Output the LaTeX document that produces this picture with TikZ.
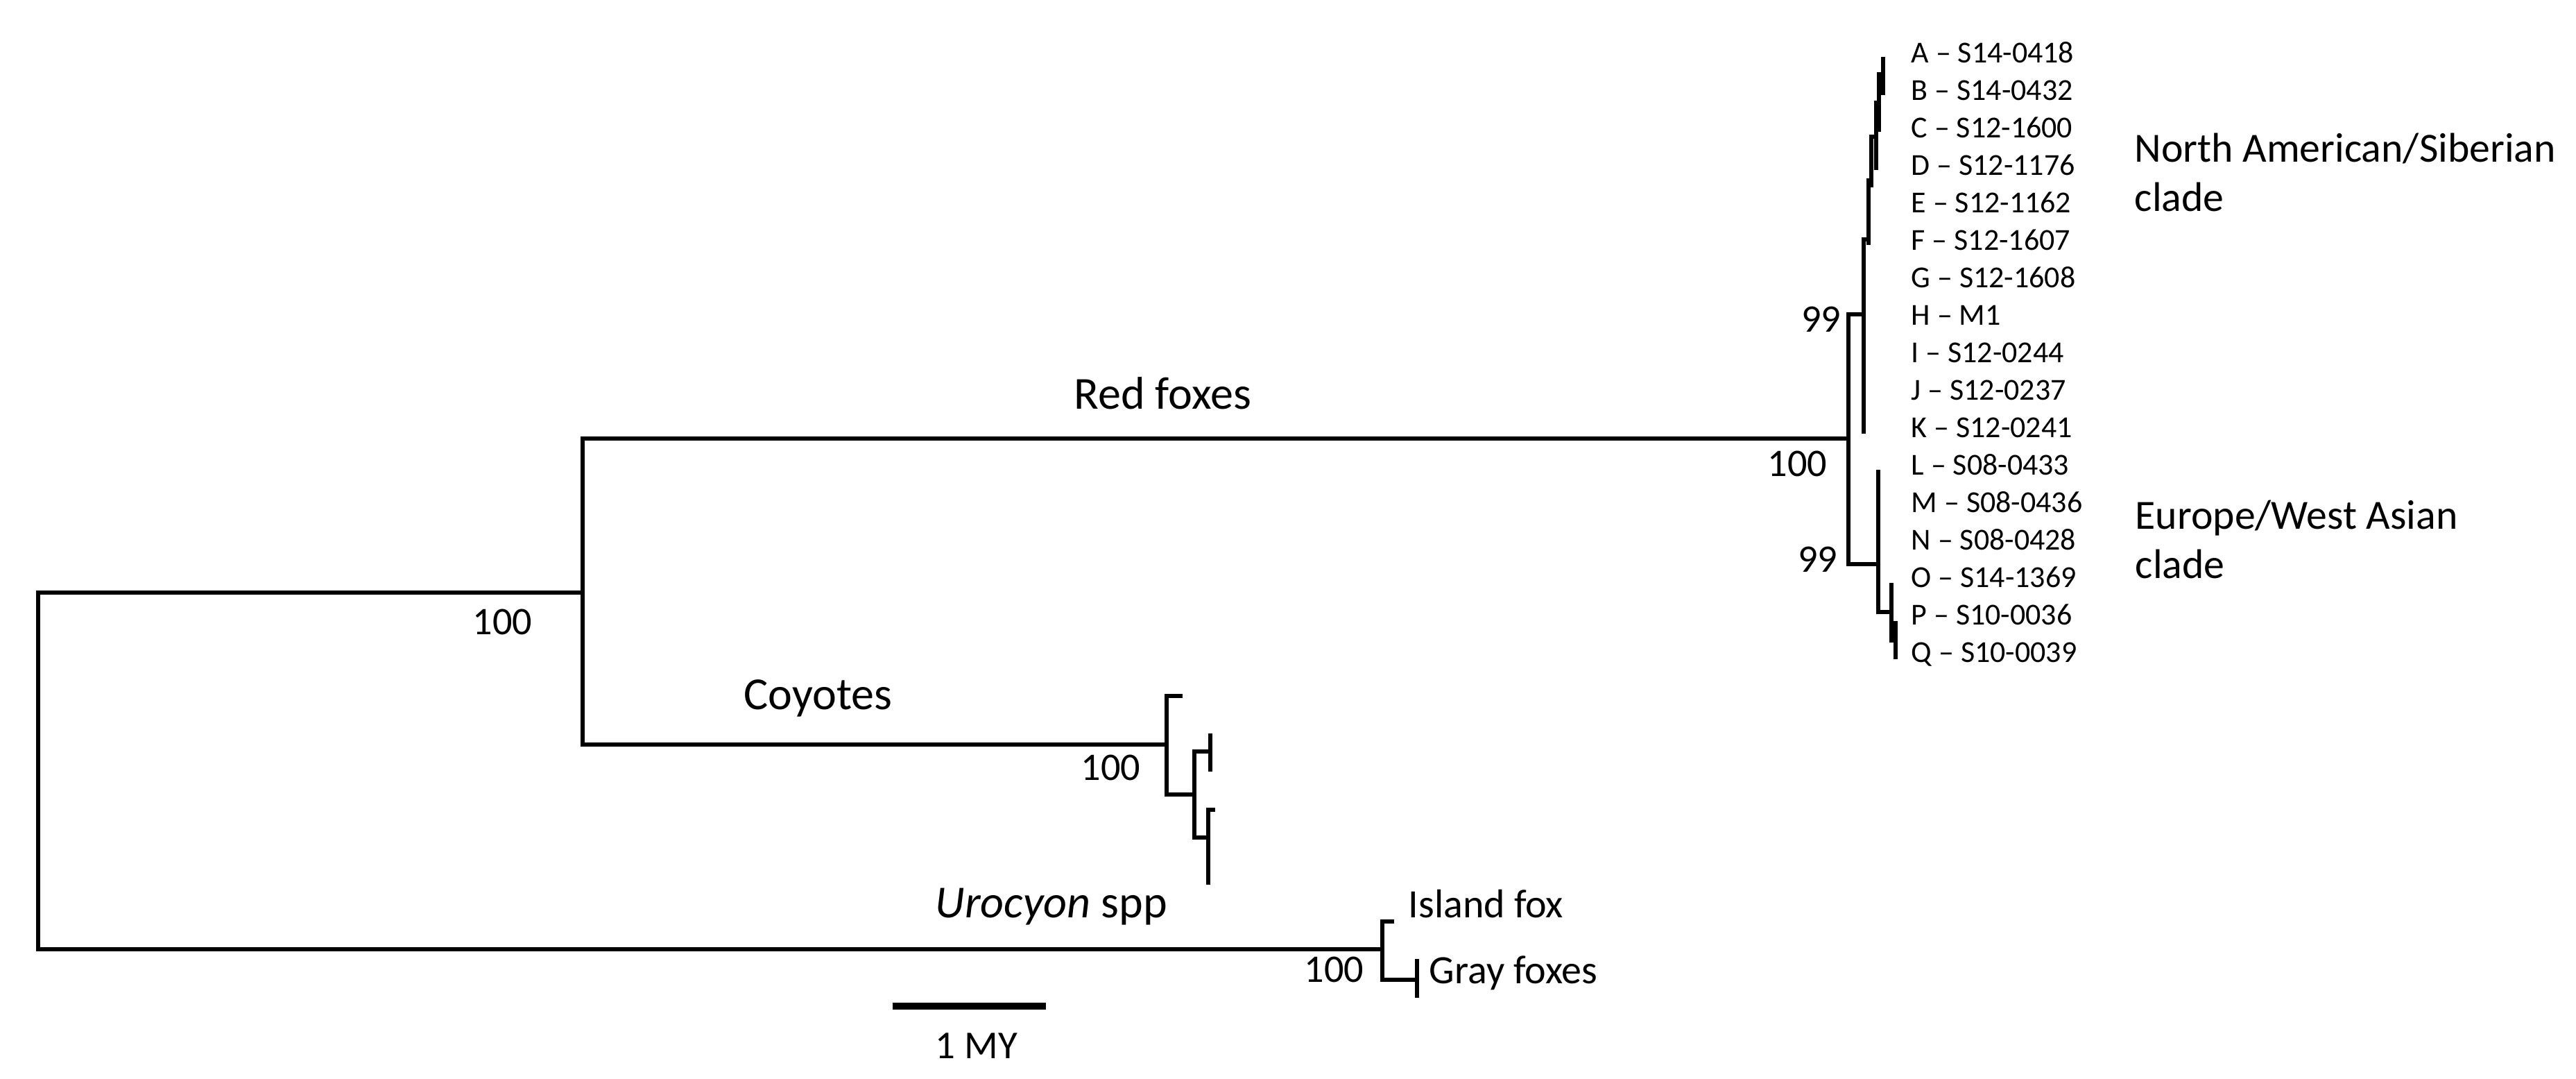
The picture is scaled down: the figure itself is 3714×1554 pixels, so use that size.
\documentclass[tikz,border=0pt]{standalone}
\usepackage{fontspec}
\setmainfont{Carlito}
\usepackage{tikz}
\tikzset{branch/.style={line width=1.5pt},
  tiplabel/.style={font=\fontsize{12.5}{15}\selectfont, anchor=base west, inner sep=0},
  support/.style={font=\fontsize{16}{19}\selectfont, anchor=east, inner sep=0},
  cladename/.style={font=\fontsize{18.8}{22}\selectfont, anchor=base west, inner sep=0},
  groupname/.style={font=\fontsize{17}{20.2}\selectfont, anchor=base west, inner sep=0, align=left},
  foxname/.style={font=\fontsize{16.5}{19}\selectfont, anchor=base west, inner sep=0}}

\begin{document}
\begin{tikzpicture}[x=0.1mm,y=-0.1mm]
\useasboundingbox (0,0) rectangle (3714,1554);
\coordinate (root) at (55,1110);
\coordinate (n1) at (840,854);
\coordinate (rf) at (2665,632);
\coordinate (na99) at (2687,453);
\coordinate (na1) at (2694,345);
\coordinate (na2) at (2698,260);
\coordinate (na3) at (2705,197);
\coordinate (na4) at (2709,148);
\coordinate (na5) at (2715,107);
\coordinate (tA) at (2715,82);
\coordinate (tB) at (2715,137);
\coordinate (tC) at (2709,190);
\coordinate (tD) at (2705,245);
\coordinate (tE) at (2698,270);
\coordinate (tF) at (2694,353);
\coordinate (tK) at (2687,625);
\coordinate (ew99) at (2708,813);
\coordinate (ew1) at (2727,882);
\coordinate (ew2) at (2733,923);
\coordinate (tL) at (2708,677);
\coordinate (tO) at (2727,840);
\coordinate (tP) at (2733,895);
\coordinate (tQ) at (2733,950);
\coordinate (coy) at (1682,1073);
\coordinate (cy1) at (1705,1003);
\coordinate (cy2) at (1722,1145);
\coordinate (cy3) at (1745,1083);
\coordinate (cy4) at (1742,1207);
\coordinate (cy5) at (1745,1057);
\coordinate (cy6) at (1745,1112);
\coordinate (cy7) at (1752,1167);
\coordinate (cy8) at (1742,1275);
\coordinate (uro) at (1993,1368);
\coordinate (island) at (2010,1328);
\coordinate (gray) at (2043,1412);
\coordinate (gr1) at (2043,1382);
\coordinate (gr2) at (2043,1438);

\draw[branch] (root) |- (n1);
\draw[branch] (root) |- (uro);
\draw[branch] (n1) |- (rf);
\draw[branch] (n1) |- (coy);
\draw[branch] (rf) |- (na99);
\draw[branch] (rf) |- (ew99);
\draw[branch] (na99) |- (na1);
\draw[branch] (na99) |- (tK);
\draw[branch] (na1) |- (na2);
\draw[branch] (na1) |- (tF);
\draw[branch] (na2) |- (na3);
\draw[branch] (na2) |- (tE);
\draw[branch] (na3) |- (na4);
\draw[branch] (na3) |- (tD);
\draw[branch] (na4) |- (na5);
\draw[branch] (na4) |- (tC);
\draw[branch] (na5) |- (tA);
\draw[branch] (na5) |- (tB);
\draw[branch] (ew99) |- (tL);
\draw[branch] (ew99) |- (ew1);
\draw[branch] (ew1) |- (tO);
\draw[branch] (ew1) |- (ew2);
\draw[branch] (ew2) |- (tP);
\draw[branch] (ew2) |- (tQ);
\draw[branch] (coy) |- (cy1);
\draw[branch] (coy) |- (cy2);
\draw[branch] (cy2) |- (cy3);
\draw[branch] (cy2) |- (cy4);
\draw[branch] (cy3) |- (cy5);
\draw[branch] (cy3) |- (cy6);
\draw[branch] (cy4) |- (cy7);
\draw[branch] (cy4) |- (cy8);
\draw[branch] (uro) |- (island);
\draw[branch] (uro) |- (gray);
\draw[branch] (gray) |- (gr1);
\draw[branch] (gray) |- (gr2);

\foreach \lab [count=\i from 0] in {A -- S14-0418, B -- S14-0432, C -- S12-1600,
  D -- S12-1176, E -- S12-1162, F -- S12-1607, G -- S12-1608, H -- M1,
  I -- S12-0244, J -- S12-0237, K -- S12-0241, L -- S08-0433, M -- S08-0436,
  N -- S08-0428, O -- S14-1369, P -- S10-0036, Q -- S10-0039}
  \node[tiplabel] (lab\i) at (2755,{90+54*\i}) {\lab};

\node[support] (bsroot) at (768,896) {100};
\node[support] (bsrf) at (2635,668) {100};
\node[support] (bsna) at (2655,460) {99};
\node[support] (bsew) at (2650,806) {99};
\node[support] (bscoy) at (1645,1106) {100};
\node[support] (bsuro) at (1967,1397) {100};

\node[cladename] (redfoxes) at (1548,589) {Red foxes};
\node[cladename] (coyotes) at (1072,1022) {Coyotes};
\node[cladename] (urocyon) at (1348,1322) {\textit{Urocyon} spp};
\node[groupname] (nasib) at (3077,304) {North American/Siberian\\clade};
\node[groupname] (euwa) at (3078,833) {Europe/West Asian\\clade};
\node[foxname] (islandfox) at (2030,1322) {Island fox};
\node[foxname] (grayfoxes) at (2060,1417) {Gray foxes};

\coordinate (sb1) at (1287,1450);
\coordinate (sb2) at (1508,1450);
\draw[line width=2.85pt] (sb1) -- (sb2);
\node[font=\fontsize{16.2}{19}\selectfont, anchor=base, inner sep=0] (scalelab) at (1408,1525) {1 MY};
\end{tikzpicture}
\end{document}
